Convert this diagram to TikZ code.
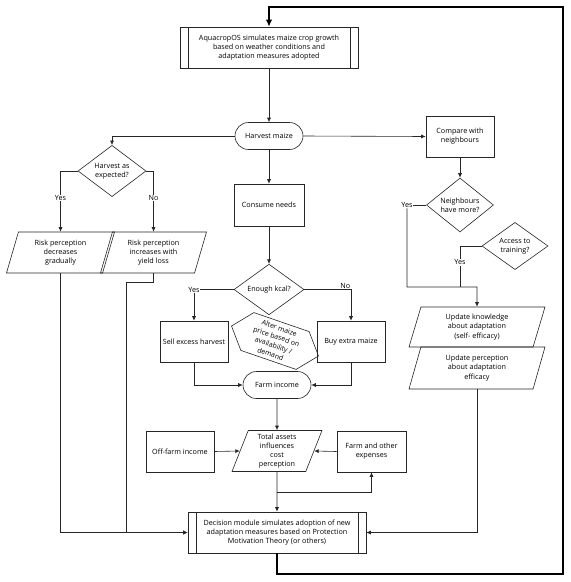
\documentclass[tikz,border=0pt]{standalone}
\usepackage{fontspec}
\setmainfont{Open Sans}
\usetikzlibrary{shapes.geometric,shapes.misc,shapes.symbols,arrows.meta}
\begin{document}
\begin{tikzpicture}[x=1pt,y=-1pt,
  every node/.style={font=\fontsize{7.2}{9.2}\selectfont, align=center, inner sep=1pt},
  ln/.style={line width=0.6pt, draw=black!85},
  arr/.style={ln, -{Latex[length=4.5pt,width=4pt]}},
  loopln/.style={line width=2.4pt, -{Latex[length=7pt,width=6.5pt]}},
  proc/.style={draw=black!85, line width=0.6pt, rectangle, minimum width=68pt, minimum height=41pt},
  subproc/.style={proc, minimum width=178pt,
    path picture={\draw[black!85, line width=0.6pt]
      ([xshift=8pt]path picture bounding box.north west) -- ([xshift=8pt]path picture bounding box.south west)
      ([xshift=-8pt]path picture bounding box.north east) -- ([xshift=-8pt]path picture bounding box.south east);}},
  term/.style={draw=black!85, line width=0.6pt, rounded rectangle, minimum width=70pt, minimum height=27pt},
  dec/.style={draw=black!85, line width=0.6pt, diamond, inner sep=0pt, minimum width=68pt, minimum height=40pt},
  io/.style={draw=black!85, line width=0.6pt, trapezium, trapezium left angle=65, trapezium right angle=115,
    trapezium stretches body, inner sep=0pt, minimum height=41pt},
  lbl/.style={fill=white, inner sep=0.5pt}
]
\useasboundingbox (0,0) rectangle (571,582);

% nodes
\node[subproc] (top) at (269,47.5) {AquacropOS simulates maize crop growth\\based on weather conditions and\\adaptation measures adopted};
\node[term] (harvest) at (269,136) {Harvest maize};
\node[dec] (harvexp) at (112,171) {Harvest as\\expected?};
\node[io, minimum width=108pt] (riskdec) at (60.5,252.5) {Risk perception\\decreases\\gradually};
\node[io, minimum width=106pt] (riskinc) at (153.5,252.5) {Risk perception\\increases with\\yield loss};
\node[proc, minimum width=70pt, minimum height=42pt] (consume) at (269,205) {Consume needs};
\node[dec, minimum width=70pt, minimum height=41pt] (kcal) at (269,289.5) {Enough kcal?};
\node[proc] (sell) at (194,341.5) {Sell excess harvest};
\node[proc] (buy) at (351,341.5) {Buy extra maize};
\node[draw=black!85, line width=0.6pt, signal, signal to=east and west, signal pointer angle=100,
  rotate=-19, minimum width=92pt, minimum height=40pt, inner sep=0pt,
  font=\fontsize{7}{9.2}\selectfont] (alter) at (275,341) {Alter maize\\price based on\\availability /\\demand};
\node[term] (farminc) at (277,385) {Farm income};
\node[io, minimum width=90pt] (total) at (277,451) {Total assets\\influences\\cost\\perception};
\node[proc] (offfarm) at (180,451.5) {Off-farm income};
\node[proc, minimum width=69pt] (farmexp) at (371.5,451.5) {Farm and other\\expenses};
\node[subproc] (bottom) at (277,532.5) {Decision module simulates adoption of new\\adaptation measures based on Protection\\Motivation Theory (or others)};
\node[proc] (compare) at (460,136.5) {Compare with\\neighbours};
\node[dec, minimum width=67pt] (neighb) at (460,205) {Neighbours\\have more?};
\node[dec, minimum width=66pt] (access) at (515,246) {Access to\\training?};
\node[io, minimum width=136pt, minimum height=40pt] (upknow) at (477,327) {Update knowledge\\about adaptation\\(self- efficacy)};
\node[io, minimum width=136pt, minimum height=42pt] (upperc) at (477,368) {Update perception\\about adaptation\\efficacy};

% coordinates
\coordinate (c1) at (563,574);
\coordinate (c2) at (563,7);
\coordinate (r1) at (126,282);
\coordinate (j2) at (477,287);
\coordinate (j3) at (460,287);
\coordinate (b1) at (277,492);

% main loop
\draw[loopln] (bottom.south) |- (c1) -- (c2) -| (top.north);

% connectors
\draw[arr] (top.south) -- (harvest.north);
\draw[arr] (harvest.west) -| (harvexp.north);
\draw[arr] (harvexp.west) -| (riskdec.north) node[pos=0.72, lbl] {Yes};
\draw[arr] (harvexp.east) -| (riskinc.north) node[pos=0.72, lbl] {No};
\draw[arr] (riskdec.south) |- (bottom.west);
\draw[arr] (riskinc.south) |- (r1) |- (bottom.west);

\draw[arr] (harvest.south) -- (consume.north);
\draw[arr] (consume.south) -- (kcal.north);
\draw[arr] (kcal.west) -| (sell.north) node[pos=0.5, lbl] {Yes};
\draw[arr] (kcal.east) -| (buy.north) node[pos=0.5, anchor=south east, inner sep=0.5pt] {No};
\draw[arr] (sell.south) |- (farminc.west);
\draw[arr] (buy.south) |- (farminc.east);
\draw[arr] (farminc.south) -- (total.north);
\draw[arr] (offfarm.east) -- (total.west);
\draw[arr] (farmexp.west) -- (total.east);
\draw[arr] (total.south) -- (bottom.north);
\draw[arr] (b1) -| (farmexp.south);

\draw[arr] (harvest.east) -- (compare.west);
\draw[arr] (compare.south) -- (neighb.north);
\node[inner sep=0.5pt] (yes3) at (407,205) {Yes};
\draw[ln] (neighb.west) -- (yes3.east);
\draw[arr] (yes3.south) |- (j2) -- (upknow.north);
\draw[ln] (access.west) -| (j3) node[pos=0.7, lbl] {Yes};
\draw[arr] (upperc.south) |- (bottom.east);
\end{tikzpicture}
\end{document}
